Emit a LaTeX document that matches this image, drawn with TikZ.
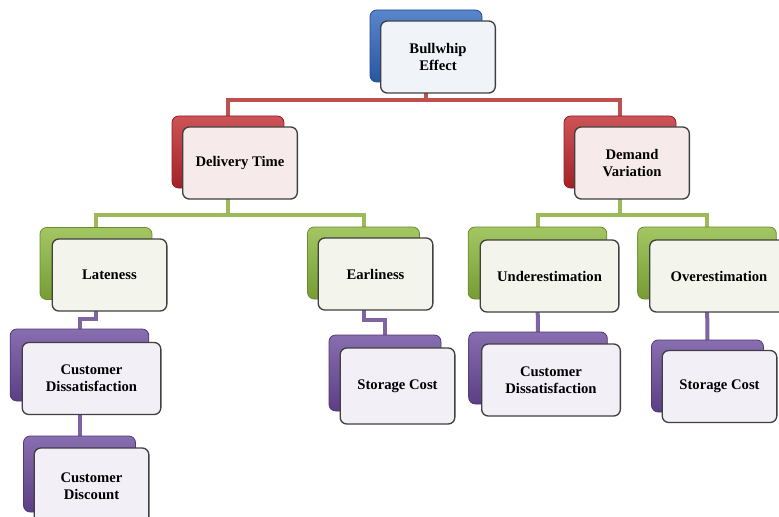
\documentclass[tikz,border=0pt]{standalone}
\usepackage{fontspec}
\setmainfont{Liberation Serif}
\usetikzlibrary{backgrounds}

\definecolor{boxline}{HTML}{404040}
\definecolor{bwblue}{HTML}{2F66BE}
\definecolor{dtred}{HTML}{C0282D}
\definecolor{lvgreen}{HTML}{8CB83C}
\definecolor{lfpurple}{HTML}{6A4A9C}
\definecolor{redline}{HTML}{C0504D}
\definecolor{greenline}{HTML}{9BBB59}
\definecolor{purpleline}{HTML}{8064A2}
\definecolor{bwtint}{HTML}{F0F3F8}
\definecolor{dttint}{HTML}{F7EAEA}
\definecolor{lvtint}{HTML}{F3F5EC}
\definecolor{lftint}{HTML}{F2F0F6}

\tikzset{
  back/.style={rounded corners=5pt, draw=#1!75!black, line width=0.6pt,
    top color=#1!80!white, middle color=#1, bottom color=#1!85!black,
    inner sep=0pt, minimum width=84pt, minimum height=54pt},
  front/.style={rounded corners=5pt, draw=boxline, line width=1pt, fill=#1,
    inner sep=2pt, align=center, minimum width=86pt, minimum height=54pt,
    font=\bfseries\fontsize{11}{13}\selectfont},
  wide/.style={minimum width=104pt},
  tall/.style={minimum height=57pt},
  link/.style={draw=#1, line width=3pt},
}

\begin{document}
\begin{tikzpicture}[x=0.75pt,y=-0.75pt]
\useasboundingbox (0,0) rectangle (779,517);

% Level 0
\node[back=bwblue] (bw_b) at (426,46) {};
\node[front=bwtint] (bw_f) at (438,57) {Bullwhip\\Effect};

% Level 1
\node[back=dtred] (dt_b) at (228,152) {};
\node[front=dttint] (dt_f) at (240,163) {Delivery Time};
\node[back=dtred] (dv_b) at (620,152) {};
\node[front=dttint] (dv_f) at (632,163) {Demand\\Variation};

% Level 2
\node[back=lvgreen] (lat_b) at (96,263.5) {};
\node[front=lvtint] (lat_f) at (109.5,275) {Lateness};
\node[back=lvgreen] (ear_b) at (363.5,263) {};
\node[front=lvtint] (ear_f) at (375.5,274) {Earliness};
\node[back=lvgreen,wide] (und_b) at (537.5,263) {};
\node[front=lvtint,wide] (und_f) at (549.5,276) {Underestimation};
\node[back=lvgreen,wide] (ovr_b) at (707,263) {};
\node[front=lvtint,wide] (ovr_f) at (719,276) {Overestimation};

% Level 3
\node[back=lfpurple,wide] (cdl_b) at (79.5,365) {};
\node[front=lftint,wide] (cdl_f) at (91.5,378.5) {Customer\\Dissatisfaction};
\node[back=lfpurple,tall] (scl_b) at (385,373) {};
\node[front=lftint,tall] (scl_f) at (397.5,386) {Storage Cost};
\node[back=lfpurple,wide] (cdr_b) at (538,368) {};
\node[front=lftint,wide] (cdr_f) at (551,380) {Customer\\Dissatisfaction};
\node[back=lfpurple] (scr_b) at (707.5,376) {};
\node[front=lftint] (scr_f) at (719.5,386.5) {Storage Cost};

% Level 4
\node[back=lfpurple,tall] (cdi_b) at (79.5,474) {};
\node[front=lftint,tall] (cdi_f) at (91.5,486) {Customer\\Discount};

% Connectors
\begin{scope}[on background layer]
\draw[link=redline] (bw_b.center) -- ++(0,54) -| (dt_b.center);
\draw[link=redline] (bw_b.center) -- ++(0,54) -| (dv_b.center);
\draw[link=greenline] (dt_b.center) -- ++(0,63) -| (lat_b.center);
\draw[link=greenline] (dt_b.center) -- ++(0,63) -| (ear_b.center);
\draw[link=greenline] (dv_b.center) -- ++(0,63) -| (und_b.center);
\draw[link=greenline] (dv_b.center) -- ++(0,63) -| (ovr_b.center);
\draw[link=purpleline] (lat_b.center) -- ++(0,55) -| (cdl_b.center);
\draw[link=purpleline] (cdl_b.center) -- (cdi_b.center);
\draw[link=purpleline] (ear_b.center) -- ++(0,57) -| (scl_b.center);
\draw[link=purpleline] (und_b.center) -- (cdr_b.center);
\draw[link=purpleline] (ovr_b.center) -- (scr_b.center);
\end{scope}

\end{tikzpicture}
\end{document}
